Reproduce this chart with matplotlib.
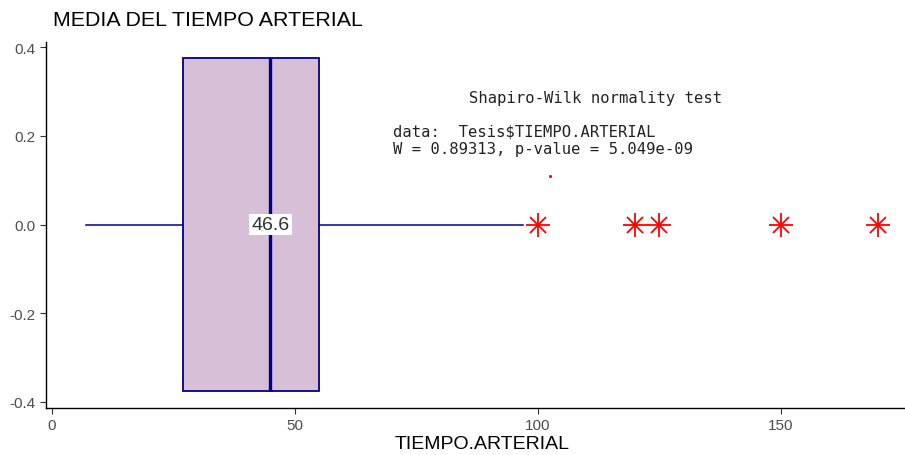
import matplotlib.pyplot as plt

# Resumen del boxplot de TIEMPO.ARTERIAL
box_q1 = 27
box_median = 45
box_q3 = 55
whisker_low = 7
whisker_high = 97
outliers = [100, 120, 125, 150, 170]
mean_value = 46.6

y_ticks = [-0.4, -0.2, 0.0, 0.2, 0.4]
x_ticks = [0, 50, 100, 150]

shapiro_lines = [
    "Shapiro-Wilk normality test",
    "data:  Tesis$TIEMPO.ARTERIAL",
    "W = 0.89313, p-value = 5.049e-09",
]

plt.rcParams["font.family"] = ["Liberation Sans", "DejaVu Sans"]

fig = plt.figure(figsize=(9.05, 4.56), dpi=100)
ax = fig.add_axes([46.1 / 905, 47.5 / 456, 871.4 / 905, 366 / 456])

stats = [{
    "med": box_median, "q1": box_q1, "q3": box_q3,
    "whislo": whisker_low, "whishi": whisker_high, "fliers": [],
}]
ax.bxp(stats, positions=[0], vert=False, widths=0.75, patch_artist=True,
       showcaps=False, showfliers=False,
       boxprops=dict(facecolor="#D8BFD8", edgecolor="#00008B", linewidth=1.3),
       whiskerprops=dict(color="#00008B", linewidth=1.1),
       medianprops=dict(color="#00008B", linewidth=2.4))

# atipicos como asteriscos
ax.plot(outliers, [0] * len(outliers), linestyle="none", marker="+",
        color="red", markersize=17, markeredgewidth=1.3)
ax.plot(outliers, [0] * len(outliers), linestyle="none", marker="x",
        color="red", markersize=12, markeredgewidth=1.3)

ax.text(box_median, 0, f"{mean_value}", ha="center", va="center",
        fontsize=14, color="#333333",
        bbox=dict(boxstyle="square,pad=0.12", facecolor="white", edgecolor="none"))

mono = dict(family="DejaVu Sans Mono", fontsize=11.2, color="#222222")
ax.text(85.9, 0.287, shapiro_lines[0], ha="left", va="center", **mono)
ax.text(70.2, 0.21, shapiro_lines[1], ha="left", va="center", **mono)
ax.text(70.2, 0.1716, shapiro_lines[2], ha="left", va="center", **mono)
ax.plot([102.6], [0.11], marker="o", color="red", markersize=1.2, linestyle="none")

ax.set_xlim(-1.15, 178.15)
ax.set_ylim(-0.4125, 0.4125)
ax.set_xticks(x_ticks)
ax.set_yticks(y_ticks)
ax.set_yticklabels([f"{v:.1f}" for v in y_ticks])
ax.tick_params(colors="#4D4D4D", labelsize=11, length=4, width=0.8)
ax.tick_params(axis="both", color="#333333")

for side in ["top", "right"]:
    ax.spines[side].set_visible(False)
for side in ["left", "bottom"]:
    ax.spines[side].set_color("black")
    ax.spines[side].set_linewidth(1.0)

ax.set_xlabel("TIEMPO.ARTERIAL", fontsize=14, labelpad=2)
fig.text(53 / 905, 1 - 20 / 456, "MEDIA DEL TIEMPO ARTERIAL", fontsize=15.4,
         ha="left", va="center")

fig.savefig("out.png", dpi=100)
